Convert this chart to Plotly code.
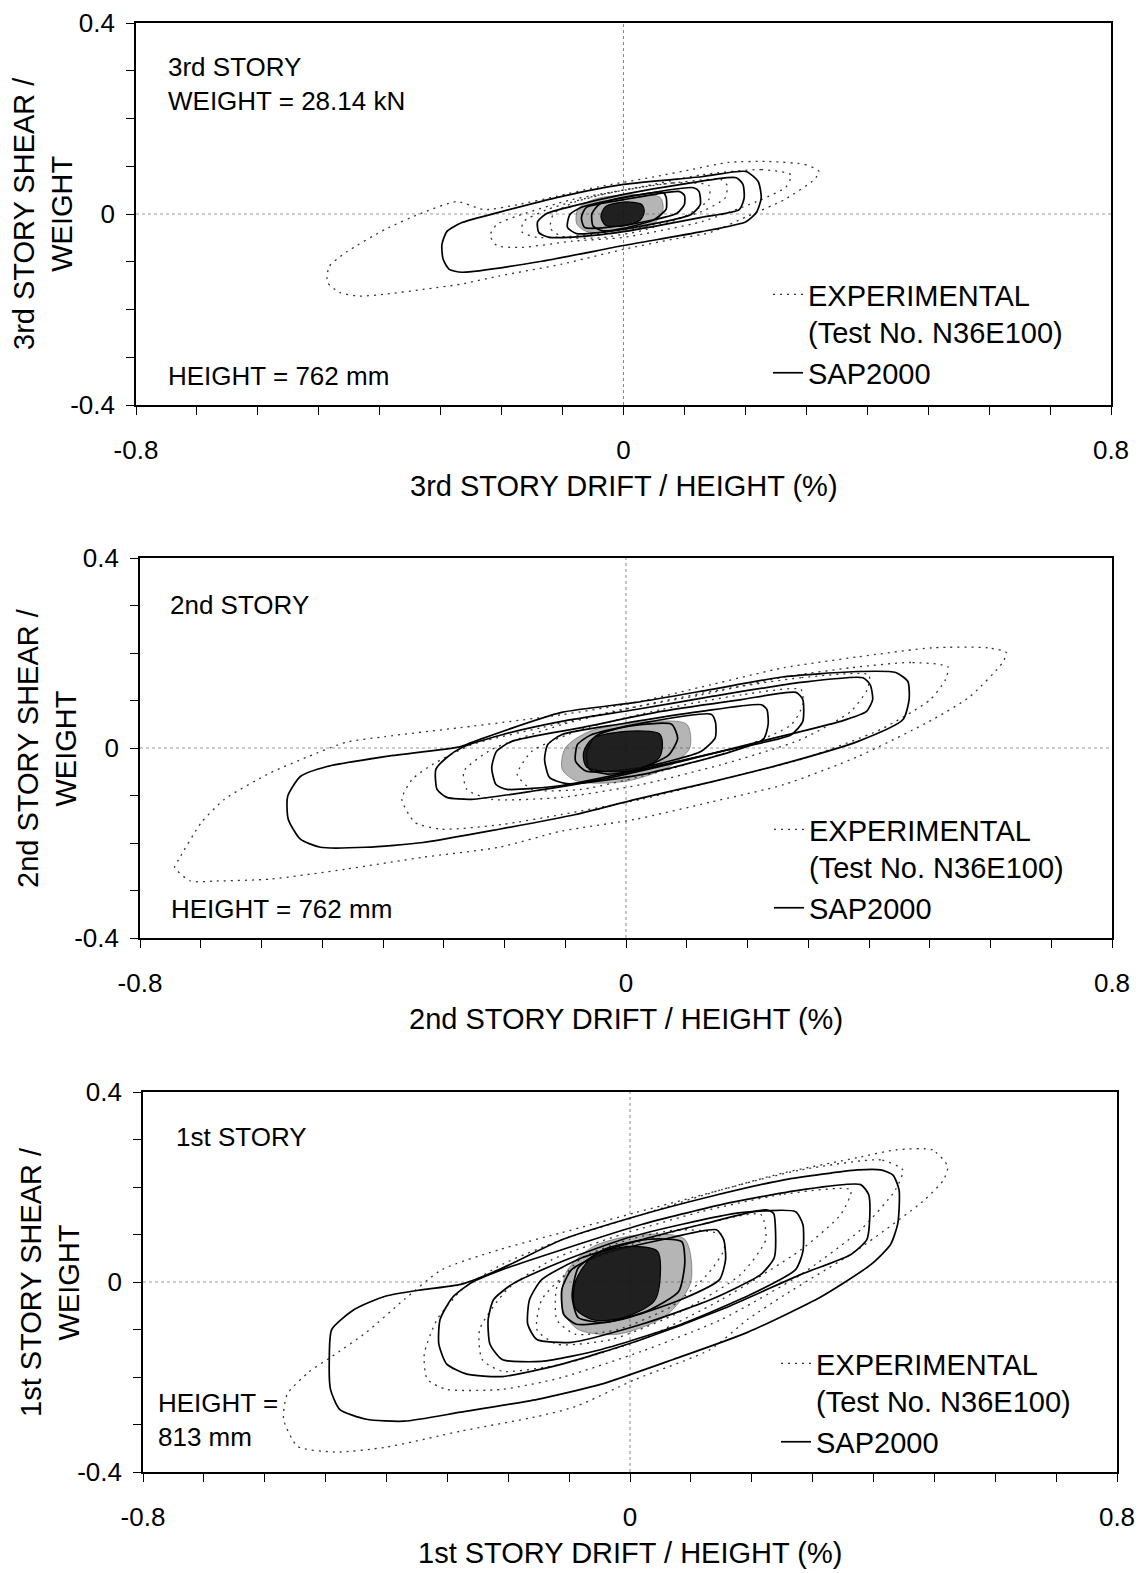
import plotly.graph_objects as go

# the page body keeps an 8 px margin, so the figure is drawn 8 px smaller and shifted
OFF = 8
W, H = 1143 - OFF, 1573 - OFF

# ---------------- tick values / labels ----------------
X_TICKS = [-0.8, -0.7, -0.6, -0.5, -0.4, -0.3, -0.2, -0.1, 0.0, 0.1, 0.2, 0.3, 0.4, 0.5, 0.6, 0.7, 0.8]
X_TICKTEXT = ["-0.8", "", "", "", "", "", "", "", "0", "", "", "", "", "", "", "", "0.8"]
Y_TICKS = [-0.4, -0.3, -0.2, -0.1, 0.0, 0.1, 0.2, 0.3, 0.4]
Y_TICKTEXT = ["-0.4", "", "", "", "0", "", "", "", "0.4"]

# ---------------- panel 1 : 3rd story (drift %, shear/weight) ----------------
P1_SAP_1 = [(0.201, 0.089), (0.128, 0.078), (0.0, 0.062), (-0.101, 0.037), (-0.2, 0.005), (-0.265, -0.018),
            (-0.29, -0.037), (-0.298, -0.064), (-0.296, -0.095), (-0.286, -0.116), (-0.265, -0.122),
            (-0.134, -0.099), (0.0, -0.066), (0.128, -0.037), (0.201, -0.016), (0.218, 0.003),
            (0.226, 0.034), (0.221, 0.068)]
P1_SAP_2 = [(0.185, 0.076), (0.095, 0.062), (0.0, 0.041), (-0.085, 0.016), (-0.126, 0.001), (-0.141, -0.016),
            (-0.139, -0.039), (-0.121, -0.049), (-0.036, -0.043), (0.0, -0.037), (0.128, -0.007),
            (0.19, 0.009), (0.198, 0.034), (0.196, 0.062)]
P1_SAP_3 = [(0.115, 0.055), (0.0, 0.034), (-0.069, 0.014), (-0.088, -0.001), (-0.092, -0.028), (-0.077, -0.041),
            (0.0, -0.032), (0.111, -0.001), (0.126, 0.02), (0.124, 0.047)]
P1_SAP_4 = [(0.092, 0.047), (0.0, 0.03), (-0.061, 0.014), (-0.069, -0.007), (-0.064, -0.028), (0.0, -0.024),
            (0.087, 0.001), (0.1, 0.02), (0.1, 0.039)]
P1_SAP_5 = [(0.065, 0.045), (0.0, 0.035), (-0.04, 0.02), (-0.052, 0.0), (-0.05, -0.025), (-0.035, -0.035),
            (0.0, -0.03), (0.05, -0.012), (0.07, 0.01), (0.07, 0.035)]
P1_EXP_1 = [(0.321, 0.089), (0.3, 0.103), (0.239, 0.11), (0.172, 0.108), (0.111, 0.093), (0.051, 0.078),
            (-0.041, 0.057), (-0.11, 0.037), (-0.172, 0.02), (-0.229, 0.009), (-0.273, 0.026), (-0.329, 0.003),
            (-0.391, -0.032), (-0.455, -0.08), (-0.483, -0.11), (-0.486, -0.143), (-0.466, -0.164),
            (-0.435, -0.172), (-0.391, -0.168), (-0.329, -0.158), (-0.267, -0.147), (-0.205, -0.13),
            (-0.101, -0.105), (0.0, -0.074), (0.08, -0.053), (0.142, -0.039), (0.203, -0.005), (0.264, 0.03),
            (0.313, 0.072)]
P1_EXP_2 = [(0.275, 0.082), (0.226, 0.093), (0.128, 0.082), (0.029, 0.057), (-0.085, 0.03), (-0.167, -0.001),
            (-0.208, -0.022), (-0.219, -0.045), (-0.208, -0.066), (-0.167, -0.07), (-0.085, -0.057),
            (0.0, -0.049), (0.128, -0.016), (0.226, 0.03), (0.267, 0.057)]
P1_EXP_3 = [(0.16, 0.072), (0.062, 0.062), (-0.036, 0.041), (-0.126, 0.009), (-0.164, -0.016), (-0.167, -0.037),
            (-0.142, -0.049), (-0.069, -0.045), (0.029, -0.028), (0.128, 0.005), (0.167, 0.034), (0.17, 0.06)]
P1_EXP_4 = [(0.14, 0.06), (0.08, 0.065), (0.0, 0.05), (-0.08, 0.025), (-0.115, 0.0), (-0.12, -0.03),
            (-0.1, -0.048), (-0.04, -0.05), (0.03, -0.035), (0.1, -0.005), (0.14, 0.03)]
P1_DENSE = [(0.06, 0.035), (0.0, 0.04), (-0.05, 0.03), (-0.075, 0.01), (-0.077, -0.02), (-0.06, -0.037),
            (0.0, -0.035), (0.05, -0.02), (0.065, 0.01)]
P1_CORE = [(0.03, 0.02), (0.0, 0.025), (-0.03, 0.015), (-0.037, -0.005), (-0.03, -0.023), (0.0, -0.025),
           (0.028, -0.012), (0.034, 0.005)]

# ---------------- panel 2 : 2nd story ----------------
P2_SAP_1 = [(0.444, 0.159), (0.382, 0.161), (0.26, 0.15), (0.139, 0.123), (0.016, 0.096), (-0.106, 0.075),
            (-0.241, 0.018), (-0.272, 0.003), (-0.397, -0.018), (-0.492, -0.039), (-0.536, -0.06),
            (-0.557, -0.102), (-0.556, -0.15), (-0.536, -0.192), (-0.503, -0.209), (-0.428, -0.209),
            (-0.334, -0.199), (-0.209, -0.171), (-0.083, -0.14), (0.016, -0.108), (0.139, -0.072),
            (0.26, -0.033), (0.382, 0.014), (0.456, 0.06), (0.466, 0.102), (0.464, 0.14)]
P2_SAP_2 = [(0.39, 0.148), (0.288, 0.138), (0.139, 0.108), (0.016, 0.081), (-0.106, 0.056), (-0.204, 0.028),
            (-0.27, 0.001), (-0.295, -0.02), (-0.313, -0.045), (-0.311, -0.087), (-0.295, -0.104),
            (-0.254, -0.108), (-0.155, -0.091), (-0.04, -0.066), (0.091, -0.028), (0.222, 0.014),
            (0.353, 0.056), (0.396, 0.077), (0.406, 0.102), (0.402, 0.133)]
P2_SAP_3 = [(0.28, 0.117), (0.19, 0.102), (0.058, 0.077), (-0.073, 0.043), (-0.188, 0.014), (-0.213, -0.007),
            (-0.221, -0.041), (-0.214, -0.077), (-0.196, -0.087), (-0.106, -0.079), (0.025, -0.045),
            (0.157, -0.007), (0.272, 0.028), (0.291, 0.056), (0.291, 0.102)]
P2_SAP_4 = [(0.223, 0.091), (0.124, 0.077), (-0.007, 0.051), (-0.106, 0.028), (-0.129, 0.007), (-0.134, -0.024),
            (-0.126, -0.062), (-0.098, -0.075), (0.025, -0.056), (0.157, -0.014), (0.226, 0.018),
            (0.234, 0.05), (0.232, 0.081)]
P2_SAP_5 = [(0.14, 0.071), (0.042, 0.056), (-0.057, 0.028), (-0.08, 0.007), (-0.083, -0.028), (-0.065, -0.049),
            (0.025, -0.041), (0.124, -0.007), (0.147, 0.022), (0.147, 0.056)]
P2_SAP_6 = [(0.075, 0.05), (0.0, 0.045), (-0.05, 0.025), (-0.065, -0.01), (-0.06, -0.045), (-0.03, -0.055),
            (0.02, -0.045), (0.07, -0.015), (0.085, 0.02)]
P2_EXP_1 = [(0.626, 0.201), (0.595, 0.211), (0.505, 0.211), (0.382, 0.192), (0.26, 0.169), (0.139, 0.133),
            (0.016, 0.096), (-0.106, 0.07), (-0.272, 0.043), (-0.397, 0.024), (-0.461, 0.012), (-0.523, -0.018),
            (-0.585, -0.052), (-0.661, -0.108), (-0.699, -0.157), (-0.736, -0.234), (-0.743, -0.251),
            (-0.717, -0.28), (-0.674, -0.28), (-0.585, -0.276), (-0.461, -0.255), (-0.334, -0.23),
            (-0.209, -0.209), (-0.106, -0.175), (0.016, -0.15), (0.139, -0.114), (0.26, -0.077),
            (0.382, -0.018), (0.505, 0.06), (0.566, 0.108), (0.62, 0.18)]
P2_EXP_2 = [(0.53, 0.171), (0.469, 0.18), (0.37, 0.169), (0.255, 0.148), (0.124, 0.112), (-0.007, 0.081),
            (-0.139, 0.043), (-0.254, 0.007), (-0.319, -0.035), (-0.352, -0.066), (-0.369, -0.108),
            (-0.347, -0.157), (-0.303, -0.171), (-0.204, -0.161), (-0.106, -0.14), (0.025, -0.108),
            (0.157, -0.066), (0.288, -0.024), (0.419, 0.039), (0.501, 0.102), (0.526, 0.144)]
P2_EXP_3 = [(0.4, 0.154), (0.288, 0.148), (0.157, 0.123), (0.025, 0.089), (-0.106, 0.049), (-0.221, -0.003),
            (-0.267, -0.049), (-0.262, -0.087), (-0.221, -0.108), (-0.106, -0.104), (0.025, -0.077),
            (0.157, -0.035), (0.288, 0.018), (0.37, 0.077), (0.397, 0.123)]
P2_EXP_4 = [(0.288, 0.123), (0.19, 0.112), (0.058, 0.081), (-0.073, 0.039), (-0.155, -0.007), (-0.179, -0.056),
            (-0.155, -0.087), (-0.073, -0.087), (0.058, -0.049), (0.19, 0.001), (0.272, 0.049), (0.291, 0.091)]
P2_DENSE = [(0.1, 0.05), (0.03, 0.055), (-0.06, 0.035), (-0.1, 0.0), (-0.105, -0.045), (-0.08, -0.07),
            (0.0, -0.07), (0.07, -0.04), (0.105, 0.0)]
P2_CORE = [(0.055, 0.03), (0.0, 0.035), (-0.055, 0.02), (-0.07, -0.01), (-0.065, -0.04), (-0.03, -0.05),
           (0.02, -0.045), (0.055, -0.02), (0.06, 0.01)]

# ---------------- panel 3 : 1st story ----------------
P3_SAP_1 = [(0.412, 0.236), (0.374, 0.236), (0.253, 0.215), (0.132, 0.18), (0.009, 0.138), (-0.112, 0.089),
            (-0.215, 0.026), (-0.278, -0.005), (-0.34, -0.016), (-0.402, -0.03), (-0.453, -0.058),
            (-0.49, -0.1), (-0.494, -0.163), (-0.492, -0.226), (-0.477, -0.268), (-0.433, -0.289),
            (-0.371, -0.293), (-0.278, -0.274), (-0.152, -0.247), (-0.047, -0.215), (0.071, -0.163),
            (0.193, -0.106), (0.314, -0.031), (0.396, 0.037), (0.428, 0.079), (0.44, 0.124), (0.442, 0.194),
            (0.432, 0.225)]
P3_SAP_2 = [(0.379, 0.205), (0.281, 0.194), (0.15, 0.163), (0.019, 0.121), (-0.112, 0.068), (-0.21, 0.026),
            (-0.26, -0.001), (-0.292, -0.033), (-0.312, -0.079), (-0.314, -0.131), (-0.301, -0.173),
            (-0.268, -0.194), (-0.21, -0.199), (-0.112, -0.173), (0.019, -0.121), (0.15, -0.058),
            (0.281, 0.016), (0.363, 0.058), (0.389, 0.089), (0.394, 0.142), (0.392, 0.184)]
P3_SAP_3 = [(0.272, 0.148), (0.182, 0.146), (0.084, 0.121), (-0.014, 0.089), (-0.112, 0.043), (-0.194, -0.005),
            (-0.224, -0.037), (-0.233, -0.079), (-0.23, -0.131), (-0.21, -0.163), (-0.145, -0.167),
            (-0.047, -0.142), (0.084, -0.089), (0.199, -0.026), (0.272, 0.026), (0.284, 0.064), (0.284, 0.121)]
P3_SAP_4 = [(0.224, 0.152), (0.117, 0.121), (0.019, 0.089), (-0.079, 0.051), (-0.145, 0.005), (-0.165, -0.037),
            (-0.168, -0.089), (-0.153, -0.121), (-0.096, -0.127), (0.019, -0.089), (0.133, -0.037),
            (0.215, 0.016), (0.237, 0.051), (0.239, 0.11), (0.236, 0.144)]
P3_SAP_5 = [(0.142, 0.11), (0.052, 0.089), (-0.047, 0.058), (-0.096, 0.026), (-0.112, -0.016), (-0.109, -0.068),
            (-0.088, -0.089), (-0.014, -0.079), (0.084, -0.037), (0.147, 0.005), (0.157, 0.047), (0.154, 0.089)]
P3_SAP_6 = [(0.085, 0.085), (0.03, 0.09), (-0.04, 0.07), (-0.085, 0.03), (-0.095, -0.03), (-0.085, -0.075),
            (-0.04, -0.085), (0.03, -0.06), (0.08, -0.02), (0.09, 0.04)]
P3_EXP_1 = [(0.522, 0.243), (0.497, 0.278), (0.436, 0.278), (0.374, 0.262), (0.253, 0.23), (0.132, 0.188),
            (0.009, 0.146), (-0.112, 0.104), (-0.215, 0.068), (-0.309, 0.026), (-0.371, -0.037),
            (-0.433, -0.106), (-0.49, -0.157), (-0.528, -0.19), (-0.563, -0.236), (-0.569, -0.289),
            (-0.546, -0.346), (-0.484, -0.358), (-0.402, -0.348), (-0.278, -0.314), (-0.152, -0.283),
            (-0.089, -0.262), (0.009, -0.205), (0.132, -0.142), (0.193, -0.079), (0.253, -0.028),
            (0.374, 0.068), (0.484, 0.173), (0.515, 0.215)]
P3_EXP_2 = [(0.448, 0.236), (0.412, 0.257), (0.281, 0.236), (0.15, 0.194), (0.019, 0.142), (-0.112, 0.089),
            (-0.21, 0.037), (-0.276, -0.016), (-0.317, -0.079), (-0.338, -0.152), (-0.333, -0.205),
            (-0.301, -0.226), (-0.21, -0.226), (-0.112, -0.201), (0.019, -0.146), (0.15, -0.079),
            (0.281, 0.016), (0.379, 0.11), (0.436, 0.194)]
P3_EXP_3 = [(0.363, 0.194), (0.248, 0.184), (0.117, 0.148), (-0.014, 0.1), (-0.128, 0.047), (-0.202, -0.016),
            (-0.247, -0.1), (-0.243, -0.163), (-0.21, -0.188), (-0.112, -0.173), (0.019, -0.121),
            (0.15, -0.037), (0.281, 0.068), (0.346, 0.142)]
P3_EXP_4 = [(0.215, 0.142), (0.117, 0.121), (0.002, 0.079), (-0.096, 0.026), (-0.145, -0.037), (-0.153, -0.1),
            (-0.12, -0.131), (-0.03, -0.121), (0.084, -0.062), (0.182, 0.016), (0.223, 0.089)]
P3_EXP_5 = [(0.15, 0.1), (0.08, 0.11), (0.0, 0.09), (-0.08, 0.05), (-0.12, -0.01), (-0.12, -0.08),
            (-0.09, -0.11), (-0.02, -0.1), (0.07, -0.05), (0.13, 0.02), (0.155, 0.07)]
P3_DENSE = [(0.09, 0.09), (0.02, 0.1), (-0.06, 0.075), (-0.105, 0.02), (-0.11, -0.06), (-0.085, -0.1),
            (-0.02, -0.11), (0.06, -0.07), (0.1, 0.0)]
P3_CORE = [(0.045, 0.065), (0.0, 0.075), (-0.06, 0.055), (-0.09, 0.0), (-0.09, -0.055), (-0.06, -0.08),
           (-0.01, -0.075), (0.04, -0.04), (0.05, 0.02)]

PANELS = [
    dict(sap=[P1_SAP_1, P1_SAP_2, P1_SAP_3, P1_SAP_4, P1_SAP_5],
         exp=[P1_EXP_1, P1_EXP_2, P1_EXP_3, P1_EXP_4], dense=P1_DENSE, core=P1_CORE),
    dict(sap=[P2_SAP_1, P2_SAP_2, P2_SAP_3, P2_SAP_4, P2_SAP_5, P2_SAP_6],
         exp=[P2_EXP_1, P2_EXP_2, P2_EXP_3, P2_EXP_4], dense=P2_DENSE, core=P2_CORE),
    dict(sap=[P3_SAP_1, P3_SAP_2, P3_SAP_3, P3_SAP_4, P3_SAP_5, P3_SAP_6],
         exp=[P3_EXP_1, P3_EXP_2, P3_EXP_3, P3_EXP_4, P3_EXP_5], dense=P3_DENSE, core=P3_CORE),
]

STORY_LABELS = ["3rd", "2nd", "1st"]

# pixel boxes of the three plot areas in the page (left, right, top, bottom)
BOXES = [(136, 1111, 23, 405), (140, 1112, 558, 938), (143, 1117, 1092, 1472)]

FONT = "Liberation Sans, Arial, Helvetica, sans-serif"


def px(v):
    return (v - OFF) / W


def py(v):
    return 1 - (v - OFF) / H


def closed(pts):
    xs = [p[0] for p in pts] + [pts[0][0]]
    ys = [p[1] for p in pts] + [pts[0][1]]
    return xs, ys


fig = go.Figure()

for i, pan in enumerate(PANELS, start=1):
    sfx = "" if i == 1 else str(i)
    xa, ya = "x" + sfx, "y" + sfx
    leg = "legend" if i == 1 else "legend" + str(i)
    xs, ys = closed(pan["dense"])
    fig.add_trace(go.Scatter(x=xs, y=ys, xaxis=xa, yaxis=ya, mode="lines", fill="toself",
                             fillcolor="rgba(90,90,90,0.45)", line=dict(color="rgba(60,60,60,0.6)", width=0.8,
                                                                        shape="spline", smoothing=0.8),
                             showlegend=False, hoverinfo="skip"))
    for k, loop in enumerate(pan["exp"]):
        xs, ys = closed(loop)
        fig.add_trace(go.Scatter(x=xs, y=ys, xaxis=xa, yaxis=ya, mode="lines",
                                 name="EXPERIMENTAL<br>(Test No. N36E100)",
                                 line=dict(color="#333333", width=1.3, dash="2px,5px", shape="spline", smoothing=0.6),
                                 showlegend=(k == 0), legend=leg, legendgroup="exp" + sfx, hoverinfo="skip"))
    for k, loop in enumerate(pan["sap"]):
        xs, ys = closed(loop)
        fig.add_trace(go.Scatter(x=xs, y=ys, xaxis=xa, yaxis=ya, mode="lines", name="SAP2000",
                                 line=dict(color="black", width=1.7, shape="spline", smoothing=0.6),
                                 showlegend=(k == 0), legend=leg, legendgroup="sap" + sfx, hoverinfo="skip"))
    xs, ys = closed(pan["core"])
    fig.add_trace(go.Scatter(x=xs, y=ys, xaxis=xa, yaxis=ya, mode="lines", fill="toself",
                             fillcolor="rgba(15,15,15,0.9)", line=dict(color="black", width=1.2,
                                                                      shape="spline", smoothing=0.8),
                             showlegend=False, hoverinfo="skip"))

layout = dict(
    width=W, height=H, margin=dict(l=0, r=0, t=0, b=0, pad=0, autoexpand=False),
    paper_bgcolor="white", plot_bgcolor="white",
    font=dict(family=FONT, color="black", size=26),
    shapes=[], annotations=[],
)

for i, (l, r, t, b) in enumerate(BOXES, start=1):
    sfx = "" if i == 1 else str(i)
    layout["xaxis" + sfx] = dict(
        domain=[px(l), px(r)], anchor="y" + sfx, range=[-0.8, 0.8], automargin=False,
        tickmode="array", tickvals=X_TICKS, ticktext=X_TICKTEXT,
        ticks="outside", ticklen=8, tickwidth=1.3, tickcolor="black",
        showline=True, linecolor="black", linewidth=1.6, mirror=True,
        showgrid=False, zeroline=False, ticklabelstandoff=13,
        tickfont=dict(family=FONT, size=26, color="black"), fixedrange=True)
    layout["yaxis" + sfx] = dict(
        domain=[py(b), py(t)], anchor="x" + sfx, range=[-0.4, 0.4], automargin=False,
        tickmode="array", tickvals=Y_TICKS, ticktext=Y_TICKTEXT,
        ticks="outside", ticklen=8, tickwidth=1.3, tickcolor="black",
        showline=True, linecolor="black", linewidth=1.6, mirror=True,
        showgrid=False, zeroline=False, ticklabelstandoff=6,
        tickfont=dict(family=FONT, size=26, color="black"), fixedrange=True)
    xr = "x" + sfx
    yr = "y" + sfx
    layout["shapes"] += [
        dict(type="line", xref=xr, yref=yr + " domain", x0=0, x1=0, y0=0, y1=1,
             line=dict(color="#888888", width=1, dash="dot"), layer="below"),
        dict(type="line", xref=xr + " domain", yref=yr, x0=0, x1=1, y0=0, y1=0,
             line=dict(color="#999999", width=1, dash="dot"), layer="below"),
    ]
    story = STORY_LABELS[i - 1]
    cx = (l + r) / 2
    layout["annotations"].append(dict(
        text=f"{story} STORY DRIFT / HEIGHT (%)", xref="paper", yref="paper",
        x=px(cx), y=py(b + 81), xanchor="center", yanchor="middle",
        showarrow=False, font=dict(family=FONT, size=29)))
    layout["annotations"].append(dict(
        text=f"{story} STORY SHEAR /<br>WEIGHT", xref="paper", yref="paper",
        x=px(l - 93), y=py((t + b) / 2), xanchor="center", yanchor="middle",
        textangle=-90, showarrow=False, font=dict(family=FONT, size=29)))

layout["annotations"] += [
    dict(text="3rd STORY<br>WEIGHT = 28.14 kN", x=px(166), y=py(50), xanchor="left", yanchor="top",
         align="left", xref="paper", yref="paper", showarrow=False, font=dict(family=FONT, size=26)),
    dict(text="HEIGHT = 762 mm", x=px(166), y=py(376), xanchor="left", yanchor="middle",
         xref="paper", yref="paper", showarrow=False, font=dict(family=FONT, size=26)),
    dict(text="2nd STORY", x=px(168), y=py(605), xanchor="left", yanchor="middle",
         xref="paper", yref="paper", showarrow=False, font=dict(family=FONT, size=26)),
    dict(text="HEIGHT = 762 mm", x=px(169), y=py(909), xanchor="left", yanchor="middle",
         xref="paper", yref="paper", showarrow=False, font=dict(family=FONT, size=26)),
    dict(text="1st STORY", x=px(174), y=py(1137), xanchor="left", yanchor="middle",
         xref="paper", yref="paper", showarrow=False, font=dict(family=FONT, size=26)),
    dict(text="HEIGHT =<br>813 mm", x=px(156), y=py(1386), xanchor="left", yanchor="top", align="left",
         xref="paper", yref="paper", showarrow=False, font=dict(family=FONT, size=26)),
]

LEGEND_TOPS = [(768, 269), (769, 804), (776, 1338)]
for i, (lx, ty) in enumerate(LEGEND_TOPS, start=1):
    key = "legend" if i == 1 else "legend" + str(i)
    layout[key] = dict(x=px(lx), y=py(ty), xanchor="left", yanchor="top", xref="paper", yref="paper",
                       bgcolor="rgba(0,0,0,0)", borderwidth=0, valign="top", tracegroupgap=0,
                       font=dict(family=FONT, size=29, color="black"), itemclick=False, itemdoubleclick=False)

fig.update_layout(**layout)
fig.write_html("out.html")
